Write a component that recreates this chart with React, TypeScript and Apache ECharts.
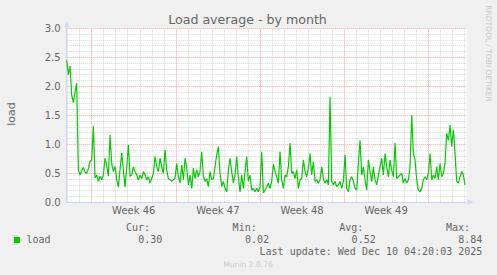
import React, { useEffect, useRef } from "react";
import * as echarts from "echarts";

const TITLE = "Load average - by month";
const Y_NAME = "load";
const SERIES_NAME = "load";
const WATERMARK = "RRDTOOL / TOBI OETIKER";
const VERSION = "Munin 2.0.76";
const LAST_UPDATE = "Last update: Wed Dec 10 04:20:03 2025";

// Sample spacing and visible span, in hours from the left edge of the plot
const STEP_HOURS = 3.328;
const X_MAX_HOURS = 798.7;
const FIRST_DAY_HOUR = 1.9; // first midnight after the plot start
const DAY_COUNT = 34;
const WEEK_START_DAYS = [2, 9, 16, 23, 30]; // day-line indices that start a week
const WEEK_LABELS = ["Week 46", "Week 47", "Week 48", "Week 49"];

const LOAD_VALUES = [
  2.45, 2.2, 2.35, 1.85, 1.72, 1.9, 2.05, 0.56,
  0.47, 0.55, 0.6, 0.52, 0.5, 0.58, 0.7, 0.73, 1.31, 0.42,
  0.47, 0.36, 0.45, 0.39, 0.47, 0.76, 0.64, 0.45, 1.16, 0.67,
  0.53, 0.62, 0.39, 0.26, 0.56, 0.85, 0.56, 0.26, 0.6, 0.99,
  0.45, 0.47, 0.61, 0.53, 0.47, 0.39, 0.47, 0.41, 0.53, 0.47,
  0.39, 0.44, 0.33, 0.41, 0.5, 0.79, 0.61, 0.53, 0.76, 0.61,
  0.5, 0.9, 0.56, 0.41, 0.39, 0.36, 0.39, 0.41, 0.67, 0.44,
  0.33, 0.64, 0.39, 0.76, 0.59, 0.3, 0.47, 0.24, 0.59, 0.41,
  0.56, 0.44, 0.53, 0.87, 0.44, 0.36, 0.41, 0.27, 0.53, 0.39,
  0.41, 0.61, 0.82, 0.96, 0.5, 0.27, 0.36, 0.24, 0.18, 0.56,
  0.76, 0.53, 0.33, 0.47, 0.79, 0.44, 0.18, 0.47, 0.24, 0.53,
  0.79, 0.36,
  0.47, 0.21, 0.24, 0.18, 0.24, 0.18, 0.27, 0.87, 0.16, 0.21,
  0.26, 0.33, 0.24, 0.36, 0.66, 0.53, 0.44, 0.33, 0.87, 0.39,
  0.24, 0.47, 0.44, 0.61, 1.02, 0.5, 0.53, 0.41, 0.56, 0.24,
  0.39, 0.41, 0.73, 0.53, 0.44, 0.59, 0.84, 0.47, 0.7, 0.36,
  0.39, 0.33, 0.39, 0.61, 0.41, 0.33, 0.39, 0.3, 1.82, 0.36,
  0.3, 0.36, 0.27, 0.3, 0.36, 0.24, 0.36, 0.82, 0.24, 0.18,
  0.39, 0.44, 0.36, 0.24, 0.21, 0.67, 1.07, 0.47, 0.61, 0.39,
  0.21, 0.73, 0.53, 0.36, 0.61, 0.39, 0.3, 0.47, 0.61, 0.76,
  0.47, 0.84, 0.61, 0.44, 0.73, 0.56, 0.44, 1.02, 0.41, 0.44,
  0.47, 0.5, 0.33, 0.41, 0.33, 0.39, 0.61, 1.5, 0.84, 0.73,
  0.39, 0.21, 0.18, 0.24, 0.39, 0.44, 0.39, 0.5, 0.84, 0.39,
  0.47, 0.41, 0.61, 0.39, 0.67, 0.44, 0.5, 0.67, 1.19, 1.07,
  1.33, 0.96, 1.25, 0.84, 0.36, 0.33, 0.44, 0.53, 0.47, 0.3,
];

const STAT_LABELS = ["Cur:", "Min:", "Avg:", "Max:"];
const STAT_VALUES = ["0.30", "0.02", "0.52", "8.84"];

const FONT_COLOR = "#666666";
const AXIS_COLOR = "#CFD6F8";
const LINE_COLOR = "#00CC00";
const MINOR_GRID = "rgba(143,143,143,0.35)";
const MAJOR_GRID = "rgba(224,80,80,0.5)";

export default function App() {
  const ref = useRef<HTMLDivElement>(null);

  useEffect(() => {
    if (!ref.current) return;
    const chart = echarts.init(ref.current, undefined, { renderer: "svg" });

    const dayHours = Array.from({ length: DAY_COUNT }, (_, i) => FIRST_DAY_HOUR + i * 24);
    const weekHours = WEEK_START_DAYS.map((d) => dayHours[d]);
    const weekCenters = WEEK_LABELS.map((_, i) => (weekHours[i] + weekHours[i + 1]) / 2);

    const gridLines = dayHours
      .filter((h) => h > 0 && h < X_MAX_HOURS)
      .map((h, i) => {
        const isWeek = weekHours.indexOf(h) >= 0;
        return {
          xAxis: h,
          lineStyle: {
            color: isWeek ? MAJOR_GRID : MINOR_GRID,
            type: [1, 1] as any,
            width: 1,
          },
        };
      });

    const mono = '"DejaVu Sans Mono", monospace';
    const sans = '"DejaVu Sans", sans-serif';
    const txt = (
      text: string,
      x: number,
      y: number,
      font: string,
      fill: string,
      align: string,
      rotation = 0
    ) => ({
      type: "text",
      x,
      y,
      rotation,
      silent: true,
      style: {
        text,
        fill,
        font,
        align,
        verticalAlign: "middle",
        textAlign: align,
        textVerticalAlign: "middle",
      },
    });

    const labelEnds = [150, 256.7, 363.3, 470];
    const valueEnds = [162.3, 269, 375.7, 482.3];

    const graphics: any[] = [
      txt(TITLE, 247.5, 19.5, `12.6px ${sans}`, FONT_COLOR, "center"),
      txt(Y_NAME, 11, 114, `11px ${sans}`, FONT_COLOR, "center", Math.PI / 2),
      txt(WATERMARK, 488, 53.5, `7.5px ${sans}`, "#c8c8c8", "center", -Math.PI / 2),
      {
        type: "rect",
        shape: { x: 14, y: 237, width: 6, height: 6 },
        style: { fill: LINE_COLOR },
        silent: true,
      },
      txt(SERIES_NAME, 26.5, 239.3, `10px ${mono}`, FONT_COLOR, "left"),
      ...STAT_LABELS.map((s, i) => txt(s, labelEnds[i], 227.3, `10px ${mono}`, FONT_COLOR, "right")),
      ...STAT_VALUES.map((s, i) => txt(s, valueEnds[i], 239.3, `10px ${mono}`, FONT_COLOR, "right")),
      txt(LAST_UPDATE, 482.3, 251.3, `10px ${mono}`, FONT_COLOR, "right"),
      txt(VERSION, 248, 264, `7.6px ${sans}`, "#cccccc", "center"),
    ];

    chart.setOption({
      animation: false,
      backgroundColor: "#F0F0F0",
      grid: {
        left: 66.7,
        top: 28.3,
        width: 400,
        height: 174,
        show: true,
        backgroundColor: "#FFFFFF",
        borderWidth: 0,
        containLabel: false,
      },
      xAxis: {
        type: "value",
        min: 0,
        max: X_MAX_HOURS,
        axisLine: {
          show: true,
          lineStyle: { color: AXIS_COLOR, width: 1 },
          symbol: ["none", "triangle"],
          symbolSize: [5, 6],
          symbolOffset: [0, 4],
        },
        axisTick: { show: false },
        splitLine: { show: false },
        axisLabel: {
          customValues: weekCenters,
          formatter: (v: number) => {
            const i = weekCenters.findIndex((c) => Math.abs(c - v) < 1);
            return i >= 0 ? WEEK_LABELS[i] : "";
          },
          color: FONT_COLOR,
          fontSize: 10,
          fontFamily: "DejaVu Sans",
          margin: 3,
        },
      },
      yAxis: {
        type: "value",
        min: 0,
        max: 3,
        interval: 0.5,
        axisLine: {
          show: true,
          onZero: false,
          lineStyle: { color: AXIS_COLOR, width: 1 },
          symbol: ["none", "triangle"],
          symbolSize: [5, 6],
          symbolOffset: [0, 4],
        },
        axisTick: { show: false },
        axisLabel: {
          formatter: (v: number) => v.toFixed(1),
          color: FONT_COLOR,
          fontSize: 10,
          fontFamily: "DejaVu Sans",
          margin: 6,
        },
        splitLine: {
          show: true,
          lineStyle: { color: MAJOR_GRID, type: [1, 1], width: 1 },
        },
        minorTick: { show: false, splitNumber: 5 },
        minorSplitLine: {
          show: true,
          lineStyle: { color: MINOR_GRID, type: [1, 1], width: 1 },
        },
      },
      series: [
        {
          type: "line",
          data: [],
          z: 1,
          silent: true,
          markLine: {
            silent: true,
            symbol: ["none", "none"],
            label: { show: false },
            emphasis: { disabled: true },
            data: gridLines,
          },
        },
        {
          type: "line",
          name: SERIES_NAME,
          z: 3,
          data: LOAD_VALUES.map((v, i) => [i * STEP_HOURS, v]),
          showSymbol: false,
          symbol: "none",
          lineStyle: { color: LINE_COLOR, width: 1.2 },
          silent: true,
        },
      ],
      graphic: graphics,
    });

    return () => chart.dispose();
  }, []);

  return (
    <div
      ref={ref}
      style={{ position: "fixed", left: 0, top: 0, width: 497, height: 275 }}
    />
  );
}
